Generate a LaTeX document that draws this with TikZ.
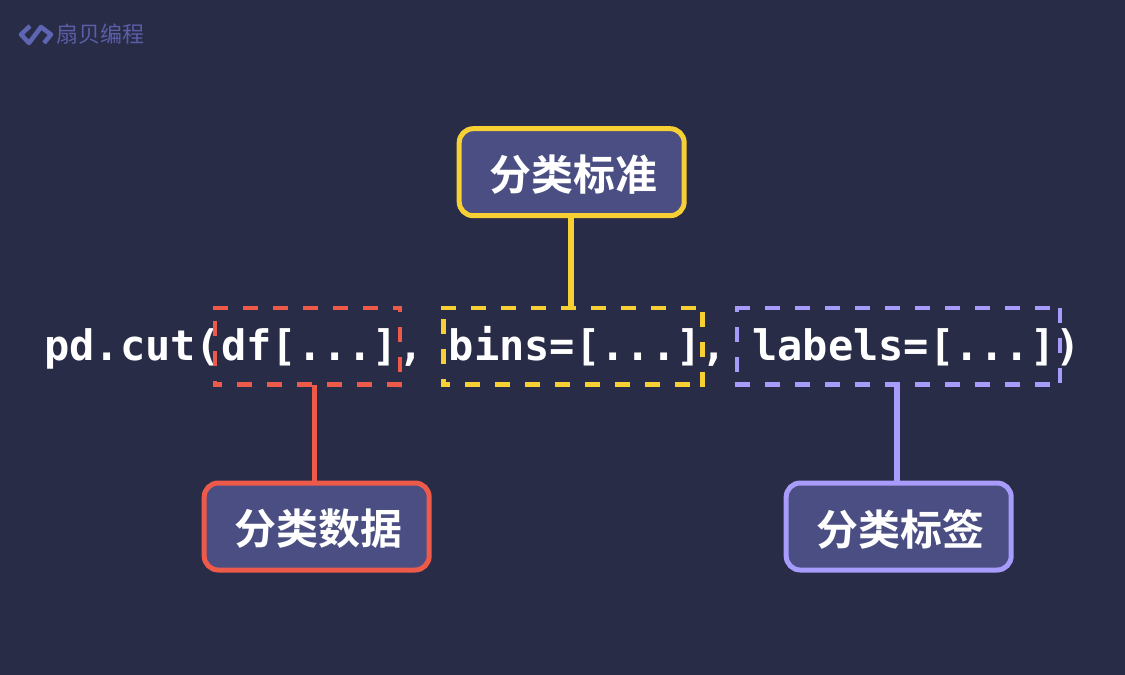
\documentclass[tikz,border=0pt]{standalone}
\usepackage{fontspec}
\newfontfamily\cjkb{Noto Sans CJK SC Bold}
\newfontfamily\cjkl{Noto Sans CJK SC}
\newfontfamily\codefont{DejaVu Sans Mono Bold}
\definecolor{bg}{HTML}{292C47}
\definecolor{boxfill}{HTML}{4A4E82}
\definecolor{cred}{HTML}{EE5A4A}
\definecolor{cyellow}{HTML}{F7D034}
\definecolor{cpurple}{HTML}{A79BFB}
\definecolor{logoc}{HTML}{5E66B4}
\definecolor{logot}{HTML}{5A5EA6}
\tikzset{
  x=1pt,y=-1pt,
  catbox/.style={draw=#1,line width=5pt,fill=boxfill,rounded corners=14pt,minimum width=225pt,minimum height=87pt,inner sep=0pt,outer sep=0pt},
  cattext/.style={text=white,font=\cjkb\fontsize{42}{42}\selectfont,inner sep=0pt},
  dashframe/.style={inner sep=0pt,outer sep=0pt,minimum height=76.5pt},
  dashside/.style={draw=#1,line width=4.5pt,dash pattern=on 15pt off 15pt,shorten <=-2.25pt,shorten >=-2.25pt},
  link/.style={draw=#1,line width=5.5pt},
}
\newcommand{\dashsides}[6]{%
  \path[dashside=#2,dash phase=#3pt] (#1.north west) -- (#1.north east);
  \path[dashside=#2,dash phase=#4pt] (#1.north east) -- (#1.south east);
  \path[dashside=#2,dash phase=#5pt] (#1.south east) -- (#1.south west);
  \path[dashside=#2,dash phase=#6pt] (#1.south west) -- (#1.north west);
}
\begin{document}
\begin{tikzpicture}
\fill[bg] (0,0) rectangle (1125,675);
\useasboundingbox (0,0) rectangle (1125,675);
\node[inner sep=0pt,text=white,font=\codefont\fontsize{42}{42}\selectfont,anchor=base west] (code) at (44,360) {pd.cut(df[...], bins=[...], labels=[...])};
\node[dashframe,minimum width=185pt] (dred) at (307.5,346.25) {};
\node[dashframe,minimum width=259.25pt] (dyellow) at (572.875,346.25) {};
\node[dashframe,minimum width=323pt] (dpurple) at (898.5,346.25) {};
\dashsides{dred}{cred}{0}{9}{0}{9}
\dashsides{dyellow}{cyellow}{0}{24}{15}{7}
\dashsides{dpurple}{cpurple}{0}{28}{18}{15}
\node[catbox=cyellow] (byellow) at (571.7,172.2) {};
\node[catbox=cred] (bred) at (316.7,526.5) {};
\node[catbox=cpurple] (bpurple) at (898.7,526.5) {};
\node[cattext] (tyellow) at (573,175) {分类标准};
\node[cattext] (tred) at (318,529) {分类数据};
\node[cattext] (tpurple) at (900,529) {分类标签};
\coordinate (ly) at (571,0);
\coordinate (lr) at (314.7,0);
\coordinate (lp) at (897,0);
\draw[link=cyellow] (byellow.south -| ly) -- (dyellow.north -| ly);
\draw[link=cred] (bred.north -| lr) -- (dred.south -| lr);
\draw[link=cpurple] (bpurple.north -| lp) -- (dpurple.south -| lp);
\node[inner sep=0pt,text=logot,font=\cjkl\fontsize{22}{22}\selectfont,anchor=west] (logotext) at (56.5,34) {扇贝编程};
\draw[logoc,line width=4.5pt,line join=round] (30,26) -- (21,34.5) -- (29,43) -- (41,27) -- (51,34.5) -- (44,43);
\end{tikzpicture}
\end{document}
